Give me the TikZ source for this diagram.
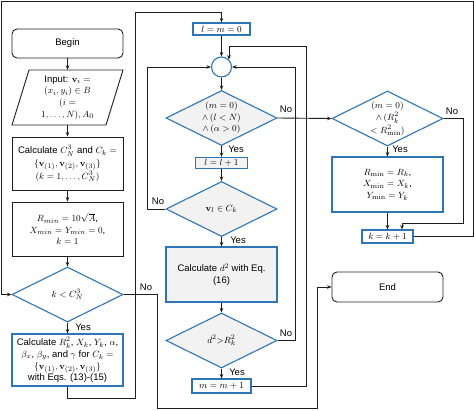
\documentclass[tikz,border=0pt]{standalone}
\usepackage[no-math]{fontspec}
\setmainfont{Liberation Sans}
\usetikzlibrary{shapes.geometric,arrows.meta,calc}
\definecolor{blueB}{RGB}{46,117,182}
\definecolor{grayF}{RGB}{242,242,242}
\definecolor{lineC}{RGB}{30,30,30}
\begin{document}
\begin{tikzpicture}[x=1pt,y=-1pt,
  font=\fontsize{9.5}{11.6}\selectfont,
  every node/.style={inner sep=0pt,align=center},
  term/.style={draw=lineC,line width=0.9pt,rounded corners=5pt,minimum width=111pt},
  kbox/.style={draw=lineC,line width=0.9pt,minimum width=111pt},
  bbox/.style={draw=blueB,line width=1.1pt,fill=white},
  gbox/.style={draw=blueB,line width=1.1pt,fill=grayF},
  diam/.style={diamond,draw=blueB,line width=1.1pt,minimum width=111pt,minimum height=55pt},
  conn/.style={draw=lineC,line width=0.9pt,-{Stealth[length=4.5pt,width=3.6pt]}},
  lab/.style={inner sep=0pt},
  wide/.style={font=\fontsize{9.5}{12.8}\selectfont}
]
\useasboundingbox (0,0) rectangle (474,410);
% ---- left column
\node[term,minimum height=29pt] (begin) at (67.5,43.5) {Begin};
\draw[draw=lineC,line width=0.9pt] (12,125) -- (29,70) -- (123,70) -- (106,125) -- cycle;
\node[minimum width=94pt,minimum height=55pt] (input) at (67.5,97.5)
  {Input: $\mathbf{v}_i =$\\ $(x_i, y_i) \in B$\\ $(i =$\\ $1, \ldots, N), A_0$};
\node[kbox,wide,minimum height=53pt] (calc1) at (67.5,163.5)
  {Calculate $C_N^3$ and $C_k =$\\ $\{\mathbf{v}_{(1)}, \mathbf{v}_{(2)}, \mathbf{v}_{(3)}\}$\\ $(k = 1, \ldots, C_N^3)$};
\node[kbox,minimum height=54pt] (init) at (67.5,229)
  {$R_{min} = 10\sqrt{A}$,\\ $X_{min} = Y_{min} = 0$,\\ $k = 1$};
\node[diam,fill=white] (dk) at (67.5,294.5) {};
\node (dkt) at (dk) {$k < C_N^3$};
\node[bbox,minimum width=111pt,minimum height=52pt,font=\fontsize{9.5}{11.8}\selectfont] (calcR) at (67.5,360)
  {Calculate $R_k^2$, $X_k$, $Y_k$, $\alpha$,\\ $\beta_x$, $\beta_y$, and $\gamma$ for $C_k =$\\ $\{\mathbf{v}_{(1)}, \mathbf{v}_{(2)}, \mathbf{v}_{(3)}\}$\\ with Eqs. (13)-(15)};
% ---- middle column
\node[bbox,minimum width=57pt,minimum height=12pt] (lm0) at (221.5,29) {$l = m = 0$};
\node[circle,draw=blueB,line width=1.1pt,fill=white,minimum size=20pt] (circ) at (221.5,67) {};
\node[diam,fill=grayF] (d1) at (221.5,118) {};
\node (d1t) at (d1) {$(m = 0)$\\ $\wedge\,(l < N)$\\ $\wedge\,(\alpha > 0)$};
\node[gbox,minimum width=52pt,minimum height=11pt] (ll1) at (221.5,163) {$l = l + 1$};
\node[diam,fill=grayF] (d2) at (221.5,209) {};
\node (d2t) at (d2) {$\mathbf{v}_l \in C_k$};
\node[gbox,minimum width=111pt,minimum height=55pt] (calcd) at (221.5,274.5) {Calculate $d^2$ with Eq.\\ (16)};
\node[diam,fill=grayF] (d3d) at (221.5,340.5) {};
\node (d3dt) at (d3d) {$d^2{>}R_k^2$};
\node[bbox,minimum width=59pt,minimum height=14pt] (mm1) at (221.5,386) {$m = m + 1$};
% ---- right column
\node[diam,fill=white] (d3) at (387.5,118.5) {};
\node[font=\fontsize{9.5}{12.5}\selectfont] (d3t) at (d3) {$(m = 0)$\\ $\wedge\,(R_k^2$\\ $< R_{\min}^2)$};
\node[bbox,minimum width=111pt,minimum height=55pt] (rbox) at (387.5,184.5)
  {$R_{\min} = R_k$,\\ $X_{\min} = X_k$,\\ $Y_{\min} = Y_k$};
\node[bbox,minimum width=51pt,minimum height=13pt] (kk1) at (387.5,236.5) {$k = k + 1$};
\node[term,minimum height=30pt] (end) at (387.5,287) {End};
% ---- connectors
\draw[conn] (begin) -- (input);
\draw[conn] (input) -- (calc1);
\draw[conn] (calc1) -- (init);
\draw[conn] (init) -- (dk);
\draw[conn] (dk) -- (calcR);
\draw[conn] (calcR.south) |- (135,398) -- (135,12) -| (lm0.north);
\draw[conn] (dk.east) -| (157,408.5) -| (317,287) -- (end.west);
\draw[conn] (lm0) -- (circ);
\draw[conn] (circ) -- (d1);
\draw[conn] (d1) -- (ll1);
\draw[conn] (ll1) -- (d2);
\draw[conn] (d2) -- (calcd);
\draw[conn] (calcd) -- (d3d);
\draw[conn] (d3d) -- (mm1);
\draw[conn] (d2.west) -| (147,67) -- (circ.west);
\draw[conn] (d3d.east) -| (295,67) -- (circ.east);
\draw[conn] (mm1.east) -| (306,46) -| (circ.north east);
\draw[conn] (d1.east) -- (d3.west);
\draw[conn] (d3) -- (rbox);
\draw[conn] (rbox) -- (kk1);
\draw[conn] (d3.east) -| (463,223) -| ($(kk1.north)+(14.5,0)$);
\draw[conn] (kk1.east) -| (473,1) -| (1,294.5) -- (dk.west);
% ---- labels
\node[lab] (y1) at (83,327) {Yes};
\node[lab] (n1) at (146,287) {No};
\node[lab] (y2) at (236,149) {Yes};
\node[lab] (n2) at (286,109) {No};
\node[lab] (n3) at (158,201) {No};
\node[lab] (y3) at (238,240) {Yes};
\node[lab] (n4) at (286,333) {No};
\node[lab] (y4) at (237,372) {Yes};
\node[lab] (n5) at (452,111) {No};
\node[lab] (y5) at (400,149) {Yes};
\end{tikzpicture}
\end{document}
